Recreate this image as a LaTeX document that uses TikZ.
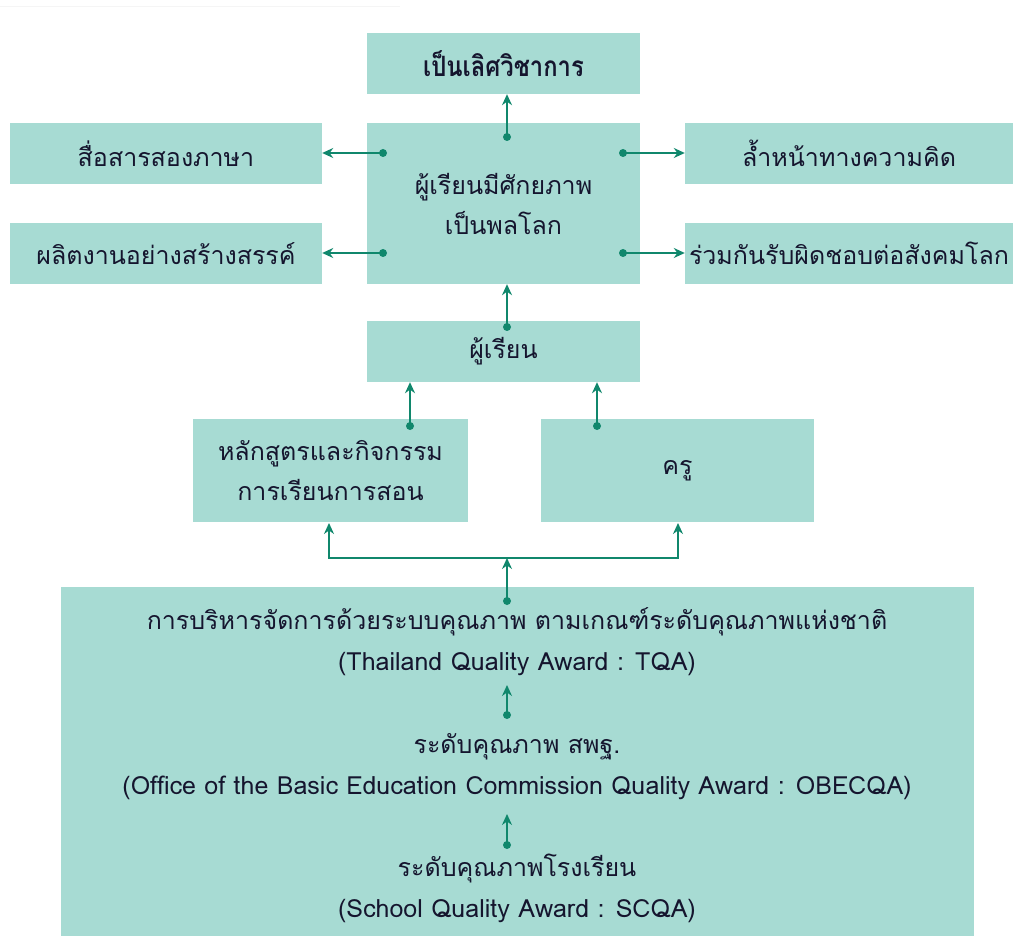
\documentclass[tikz,border=0pt]{standalone}
\usepackage{fontspec}
\usetikzlibrary{arrows.meta,calc}
\newfontfamily\thai[Script=Thai]{Loma}
\definecolor{boxfill}{HTML}{A7DBD3}
\definecolor{conn}{HTML}{10876C}
\definecolor{ink}{HTML}{15152E}
\tikzset{
  box/.style={fill=boxfill,draw=none,inner sep=0pt,font=\thai\fontsize{25}{40}\selectfont,text=ink,align=center},
  txt/.style={inner sep=0pt,font=\thai\fontsize{25}{41}\selectfont,text=ink,align=center},
  link/.style={draw=conn,line width=1.8pt,-{Stealth[length=11pt,width=10pt]}},
  dot/.style={fill=conn}
}
\begin{document}
\begin{tikzpicture}[x=1pt,y=-1pt]
\useasboundingbox (0,0) rectangle (1013,936);
\draw[gray!8,line width=1pt] (0,7) -- (400,7);
% boxes
\node[box,minimum width=273pt,minimum height=61pt,font=\thai\bfseries\fontsize{28}{30}\selectfont] (top) at (503.5,63.5) {\scalebox{0.85}[1]{เป็นเลิศวิชาการ}};
\node[box,minimum width=273pt,minimum height=161pt] (ctr) at (503.5,203.5) {ผู้เรียนมีศักยภาพ\\เป็นพลโลก};
\node[box,minimum width=312pt,minimum height=61pt] (lt) at (166,153.5) {สื่อสารสองภาษา};
\node[box,minimum width=312pt,minimum height=61pt] (lb) at (166,253.5) {ผลิตงานอย่างสร้างสรรค์};
\node[box,minimum width=328pt,minimum height=61pt] (rt) at (849,153.5) {ล้ำหน้าทางความคิด};
\node[box,minimum width=328pt,minimum height=61pt] (rb) at (849,253.5) {ร่วมกันรับผิดชอบต่อสังคมโลก};
\node[box,minimum width=273pt,minimum height=61pt] (stu) at (503.5,351.5) {ผู้เรียน};
\node[box,minimum width=275pt,minimum height=103pt] (cur) at (330.5,470.5) {หลักสูตรและกิจกรรม\\การเรียนการสอน};
\node[box,minimum width=273pt,minimum height=103pt] (tea) at (677.5,470.5) {ครู};
\node[box,minimum width=913pt,minimum height=349pt] (qa) at (517.5,761.5) {};
\node[txt] (t1) at (517,641.5) {การบริหารจัดการด้วยระบบคุณภาพ ตามเกณฑ์ระดับคุณภาพแห่งชาติ\\(Thailand Quality Award : TQA)};
\node[txt] (t2) at (517,766.5) {ระดับคุณภาพ สพฐ.\\(Office of the Basic Education Commission Quality Award : OBECQA)};
\node[txt] (t3) at (517,888.5) {ระดับคุณภาพโรงเรียน\\(School Quality Award : SCQA)};
% connectors
\coordinate (c1) at (507,137);
\fill[dot] (c1) circle (4pt); \draw[link] (c1) -- (c1 |- top.south);
\coordinate (c2) at (383,153);
\fill[dot] (c2) circle (4pt); \draw[link] (c2) -- (c2 -| lt.east);
\coordinate (c3) at (623,153);
\fill[dot] (c3) circle (4pt); \draw[link] (c3) -- (c3 -| rt.west);
\coordinate (c4) at (383,253);
\fill[dot] (c4) circle (4pt); \draw[link] (c4) -- (c4 -| lb.east);
\coordinate (c5) at (623,253);
\fill[dot] (c5) circle (4pt); \draw[link] (c5) -- (c5 -| rb.west);
\coordinate (c6) at (507,327);
\fill[dot] (c6) circle (4pt); \draw[link] (c6) -- (c6 |- ctr.south);
\coordinate (c7) at (410,426);
\fill[dot] (c7) circle (4pt); \draw[link] (c7) -- (c7 |- stu.south);
\coordinate (c8) at (597,426);
\fill[dot] (c8) circle (4pt); \draw[link] (c8) -- (c8 |- stu.south);
\coordinate (c9) at (507,601);
\coordinate (j) at (507,558);
\fill[dot] (c9) circle (4pt); \draw[link] (c9) -- (j);
\draw[link] (j) -- (329,558) -- (329,523);
\draw[link] (j) -- (678,558) -- (678,523);
\coordinate (c10) at (507,715);
\fill[dot] (c10) circle (4pt); \draw[link] (c10) -- (507,685);
\coordinate (c11) at (507,845);
\fill[dot] (c11) circle (4pt); \draw[link] (c11) -- (507,814);
\end{tikzpicture}
\end{document}
